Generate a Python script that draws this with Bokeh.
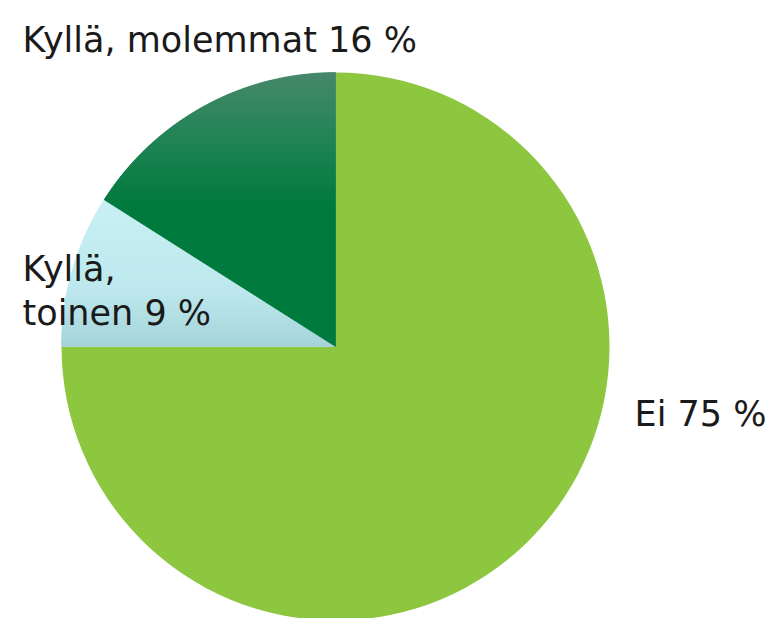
import numpy as np
from bokeh.plotting import figure
from bokeh.models import Range1d
from bokeh.core.properties import value
from bokeh.embed import file_html
from bokeh.resources import INLINE

# ---- data ----
categories = ["Ei", "Kyllä, toinen", "Kyllä, molemmat"]
shares = [75, 9, 16]
labels = ["Ei 75 %", "Kyllä,\ntoinen 9 %", "Kyllä, molemmat 16 %"]

# ---- style ----
W, H = 772, 618
base_colors = ["#8dc63f", "#c0eaef", "#007a3d"]
# vertical gradient stops (pixel y from top, colour) per slice
gradients = [
    None,
    [(200, "#c8f0f4"), (290, "#bde8ed"), (346, "#a4d3d9")],
    [(72, "#48886b"), (140, "#218455"), (205, "#007a3d"), (346, "#007a3d")],
]
# anchor x, first baseline (pixel y), alignment
label_pos = [(766, 413, "right"), (22, 268, "left"), (22, 39, "left")]
line_h = 44
FONT = "DejaVu Sans"
FSIZE = "35px"

cx, cy, r = 335, H - 346, 274

p = figure(width=W, height=H, x_range=Range1d(0, W), y_range=Range1d(0, H),
           output_backend="svg", toolbar_location=None, min_border=0)
p.axis.visible = False
p.grid.visible = False
p.outline_line_color = None


def hex2rgb(h):
    h = h.lstrip("#")
    return np.array([int(h[i:i + 2], 16) for i in (0, 2, 4)], float)


def color_at(stops, y):
    ys = [s[0] for s in stops]
    if y <= ys[0]:
        return stops[0][1]
    if y >= ys[-1]:
        return stops[-1][1]
    for (y0, c0), (y1, c1) in zip(stops[:-1], stops[1:]):
        if y0 <= y <= y1:
            t = (y - y0) / (y1 - y0)
            c = hex2rgb(c0) * (1 - t) + hex2rgb(c1) * t
            return "#%02x%02x%02x" % tuple(int(round(v)) for v in c)


def clip(poly, ylo, yhi):
    def clip_edge(pts, keep, inter):
        out = []
        n = len(pts)
        for i in range(n):
            a, b = pts[i], pts[(i + 1) % n]
            ka, kb = keep(a), keep(b)
            if ka:
                out.append(a)
            if ka != kb:
                out.append(inter(a, b))
        return out

    def ix(a, b, yv):
        t = (yv - a[1]) / (b[1] - a[1])
        return (a[0] + t * (b[0] - a[0]), yv)

    pts = clip_edge(poly, lambda q: q[1] >= ylo, lambda a, b: ix(a, b, ylo))
    if not pts:
        return []
    pts = clip_edge(pts, lambda q: q[1] <= yhi, lambda a, b: ix(a, b, yhi))
    return pts


total = sum(shares)
cum = np.cumsum([0] + shares[:-1])
starts = [np.pi / 2 - 2 * np.pi * c / total for c in cum]
ends = [s - 2 * np.pi * v / total for s, v in zip(starts, shares)]

p.wedge(x=[cx] * len(shares), y=[cy] * len(shares), radius=r,
        start_angle=starts, end_angle=ends, direction="clock",
        fill_color=base_colors, line_color=None)

# gradient bands
for i, g in enumerate(gradients):
    if g is None:
        continue
    th = np.linspace(starts[i], ends[i], 200)
    poly = [(cx, cy)] + [(cx + r * np.cos(t), cy + r * np.sin(t)) for t in th]
    ymin = min(q[1] for q in poly)
    ymax = max(q[1] for q in poly)
    xs, ys, cols = [], [], []
    step = 2.0
    y = ymin
    while y < ymax:
        y2 = min(y + step, ymax)
        part = clip(poly, y, y2)
        if len(part) >= 3:
            xs.append([q[0] for q in part])
            ys.append([q[1] for q in part])
            cols.append(color_at(g, H - (y + y2) / 2))
        y = y2
    p.patches(xs, ys, fill_color=cols, line_color=cols, line_width=0.6)

# labels
for lab, (lx, ly, al) in zip(labels, label_pos):
    for k, line in enumerate(lab.split("\n")):
        p.text(x=[lx], y=[H - (ly + k * line_h)], text=[line],
               text_font=value(FONT), text_font_size=FSIZE,
               text_color="#1a1a1a", text_align=al,
               text_baseline="alphabetic")

open("out.html", "w").write(file_html(p, INLINE))
